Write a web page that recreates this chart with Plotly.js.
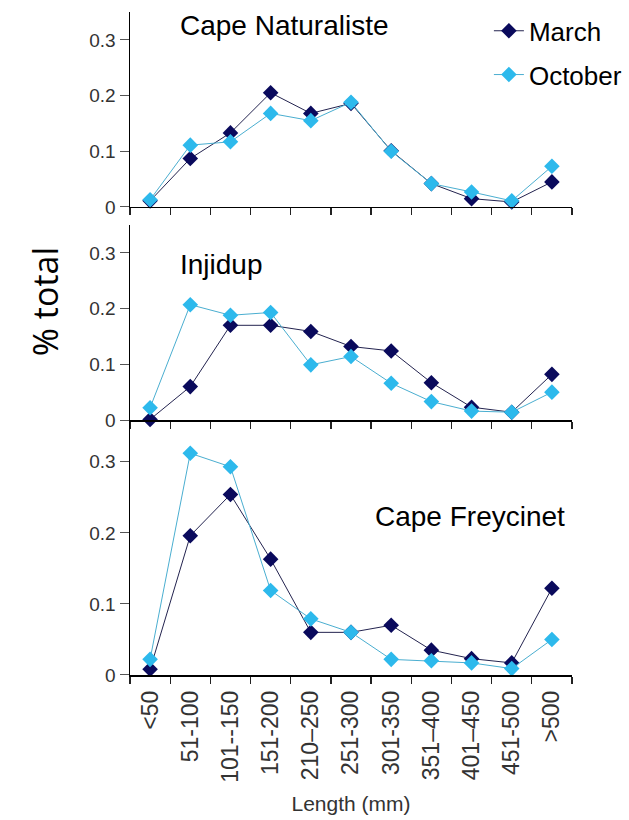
<!DOCTYPE html>
<html>
<head>
<meta charset="utf-8">
<script src="https://cdn.plot.ly/plotly-3.0.1.min.js"></script>
<style>html,body{margin:0;padding:0;background:#fff;}#chart{width:629px;height:820px;}</style>
</head>
<body>
<div id="chart"></div>
<script>
const categories = ['<50','51-100','101--150','151-200','210\u2013250','251-300','301-350','351\u2013400','401\u2013450','451-500','>500'];
const sites = ['Cape Naturaliste','Injidup','Cape Freycinet'];
const seriesNames = ['March','October'];
const naturalisteMarch   = [0.011, 0.087, 0.133, 0.205, 0.168, 0.186, 0.101, 0.042, 0.015, 0.009, 0.045];
const naturalisteOctober = [0.013, 0.111, 0.117, 0.168, 0.155, 0.188, 0.100, 0.042, 0.027, 0.011, 0.073];
const injidupMarch       = [0.001, 0.060, 0.170, 0.170, 0.159, 0.132, 0.124, 0.067, 0.023, 0.014, 0.082];
const injidupOctober     = [0.022, 0.207, 0.188, 0.193, 0.099, 0.114, 0.066, 0.033, 0.016, 0.014, 0.050];
const freycinetMarch     = [0.008, 0.196, 0.254, 0.163, 0.060, 0.060, 0.070, 0.035, 0.023, 0.017, 0.122];
const freycinetOctober   = [0.022, 0.312, 0.293, 0.119, 0.079, 0.060, 0.022, 0.020, 0.017, 0.009, 0.050];
const yTickVals = [0, 0.1, 0.2, 0.3];
const yTickText = ['0', '0.1', '0.2', '0.3'];

const FONT = 'Liberation Sans, Arial, sans-serif';
const marchStyle = {line:{color:'#23234f', width:1}, marker:{symbol:'diamond', size:12, color:'#0a0a5c'}};
const octStyle   = {line:{color:'#4aaed0', width:1}, marker:{symbol:'diamond', size:12, color:'#2db9ec'}};

const panelData = [
  [naturalisteMarch, naturalisteOctober],
  [injidupMarch, injidupOctober],
  [freycinetMarch, freycinetOctober]
];
const axisSuffix = ['', '2', '3'];
const traces = [];
panelData.forEach((pair, p) => {
  pair.forEach((vals, s) => {
    const st = s === 0 ? marchStyle : octStyle;
    traces.push({
      type:'scatter', mode:'lines+markers',
      x: categories, y: vals,
      name: seriesNames[s],
      legendgroup: seriesNames[s],
      showlegend: p === 0,
      cliponaxis: false,
      xaxis: 'x' + axisSuffix[p], yaxis: 'y' + axisSuffix[p],
      line: st.line, marker: st.marker
    });
  });
});

function xAx(anchor, showLabels){
  return {
    type:'category', domain:[0,1], anchor: anchor, range:[-0.5,10.5],
    showline:true, linecolor:'#000', linewidth:1.5, mirror:false,
    ticks:'outside', ticklen:7, tickcolor:'#222', tickwidth:1.2, tickson:'boundaries',
    showgrid:false, zeroline:false, showticklabels: showLabels, automargin:false,
    tickangle:-90, ticklabelstandoff:5, tickfont:{family:FONT, size:23, color:'#333'}
  };
}
function yAx(anchor, domain, top){
  return {
    domain: domain, anchor: anchor, range:[0, top],
    showline:true, linecolor:'#000', linewidth:1.5,
    ticks:'outside', ticklen:9, tickcolor:'#555', tickwidth:1,
    tickvals: yTickVals, ticktext: yTickText,
    showgrid:false, zeroline:false, automargin:false,
    tickfont:{family:FONT, size:19, color:'#333'}
  };
}

const layout = {
  width:629, height:820,
  margin:{l:130, r:57, t:12, b:145, autoexpand:false},
  paper_bgcolor:'#fff', plot_bgcolor:'#fff',
  showlegend:true,
  legend:{x:0.812, xanchor:'left', y:1.007, yanchor:'top', bgcolor:'rgba(0,0,0,0)',
          font:{family:FONT, size:26, color:'#000'}, traceorder:'grouped', tracegroupgap:7, itemwidth:30},
  xaxis: xAx('y', false),
  xaxis2: Object.assign(xAx('y2', false), {matches:'x'}),
  xaxis3: Object.assign(xAx('y3', true), {matches:'x',
           title:{text:'Length (mm)', font:{family:FONT, size:21, color:'#333'}, standoff:14}}),
  yaxis: yAx('x', [0.7059, 1], 0.35),
  yaxis2: yAx('x2', [0.3846, 0.6787], 0.35),
  yaxis3: yAx('x3', [0, 0.3816], 0.356),
  annotations:[
    {text:sites[0], xref:'paper', yref:'paper', x:0.349, y:0.98, showarrow:false, xanchor:'center', yanchor:'middle', font:{family:FONT, size:28, color:'#000'}},
    {text:sites[1], xref:'paper', yref:'paper', x:0.207, y:0.619, showarrow:false, xanchor:'center', yanchor:'middle', font:{family:FONT, size:28, color:'#000'}},
    {text:sites[2], xref:'paper', yref:'paper', x:0.769, y:0.239, showarrow:false, xanchor:'center', yanchor:'middle', font:{family:FONT, size:28, color:'#000'}},
    {text:'% total', xref:'paper', yref:'paper', x:-0.192, y:0.5626, showarrow:false, textangle:-90, xanchor:'center', yanchor:'middle', font:{family:'Open Sans, Noto Sans, sans-serif', size:34, color:'#000'}}
  ]
};

Plotly.newPlot('chart', traces, layout, {displayModeBar:false, staticPlot:true});
</script>
</body>
</html>
